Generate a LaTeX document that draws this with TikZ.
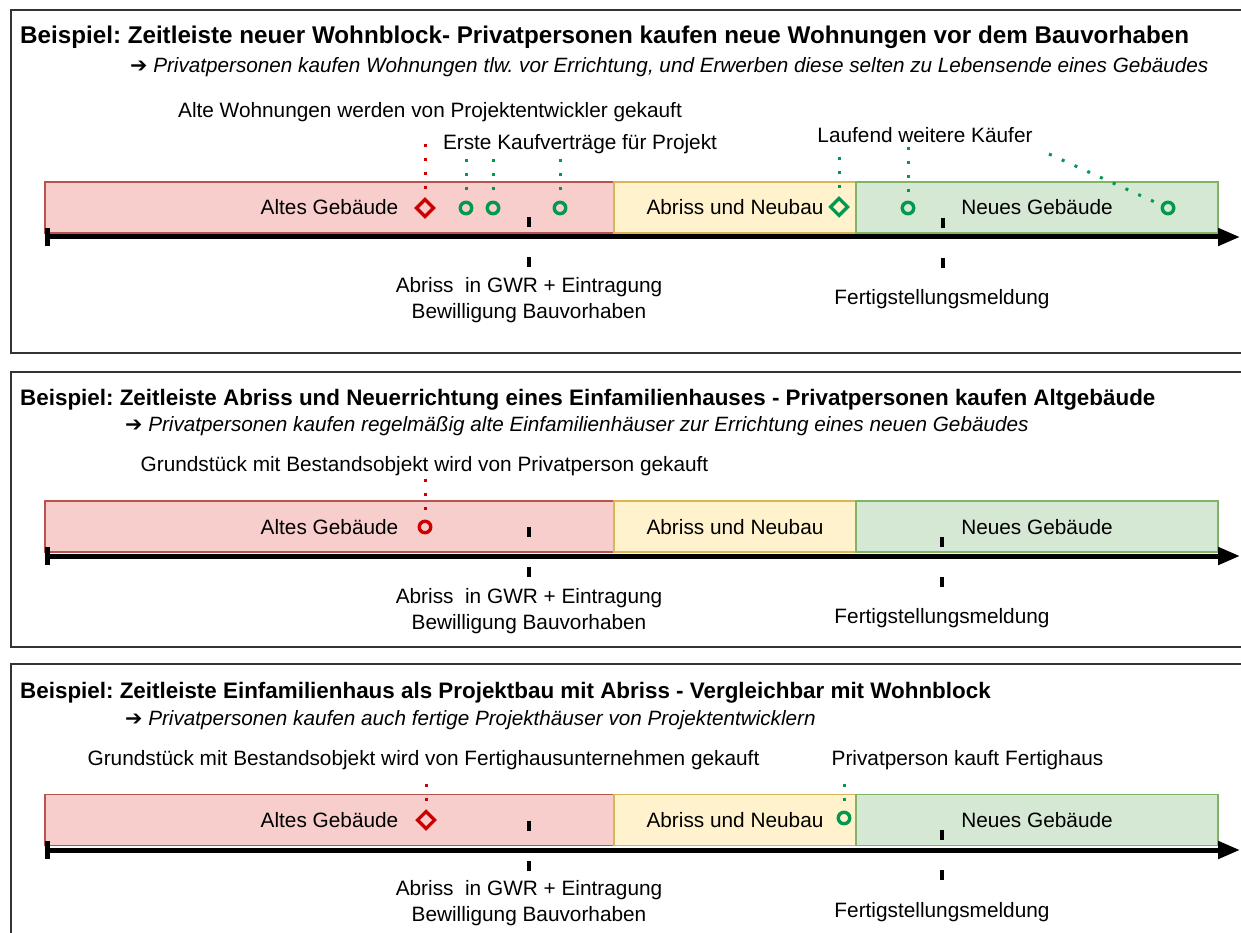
\documentclass[tikz,border=0pt]{standalone}
\usepackage{fontspec}
\setmainfont{Liberation Sans}
\newfontfamily\symfont{DejaVu Sans}
\usetikzlibrary{shapes.geometric,arrows.meta}
\frenchspacing
\definecolor{oldfill}{HTML}{F8CECC}
\definecolor{olddraw}{HTML}{B85450}
\definecolor{buildfill}{HTML}{FFF2CC}
\definecolor{builddraw}{HTML}{D6B656}
\definecolor{newfill}{HTML}{D5E8D4}
\definecolor{newdraw}{HTML}{82B366}
\definecolor{mred}{HTML}{CC0000}
\definecolor{mgreen}{HTML}{00994D}
\definecolor{framecol}{HTML}{333333}
\newcommand\lblfont{\fontsize{20.8}{26}\selectfont}
\tikzset{
  panel/.style={draw=framecol, line width=2pt},
  bar/.style={rectangle, line width=1.5pt, inner sep=0pt, outer sep=0pt, font=\lblfont,
              text height=15pt, text depth=0pt, minimum height=51pt},
  oldbar/.style={bar, fill=oldfill, draw=olddraw, minimum width=569pt},
  buildbar/.style={bar, fill=buildfill, draw=builddraw, minimum width=242pt},
  newbar/.style={bar, fill=newfill, draw=newdraw, minimum width=362pt},
  heading/.style={anchor=base west, inner sep=0pt, font=\fontsize{22.4}{27}\selectfont\bfseries},
  bigheading/.style={heading, font=\fontsize{24.2}{29}\selectfont\bfseries},
  subheading/.style={anchor=base west, inner sep=0pt, font=\fontsize{20.7}{25}\selectfont\itshape},
  lbl/.style={anchor=base, inner sep=0pt, font=\lblfont},
  timeaxis/.style={line width=5pt, {Bar[width=18pt]}-{Triangle[length=22pt,width=17pt]}},
  tickmark/.style={line width=3.5pt, dash pattern=on 10pt off 30pt},
  ring/.style={circle, draw, line width=3.4pt, minimum size=11.5pt, inner sep=0pt, outer sep=0pt},
  rhomb/.style={diamond, draw, line width=3.2pt, minimum width=17pt, minimum height=17pt, inner sep=0pt, outer sep=0pt},
  dots/.style={line width=3pt, dash pattern=on 3pt off 11pt, shorten >=9pt},
}
\newcommand\arr{{\symfont\upshape ➔}\ }
\begin{document}
\begin{tikzpicture}[x=1pt, y=-1pt]
\useasboundingbox (0,0) rectangle (1241,933);

% ---------------- panel 1: apartment block ----------------
\draw[panel] (11,10) rectangle (1260,353);
\node[bigheading] (t1) at (20,43.5) {Beispiel: Zeitleiste neuer Wohnblock- Privatpersonen kaufen neue Wohnungen vor dem Bauvorhaben};
\node[subheading] (s1) at (130,72.4) {\arr Privatpersonen kaufen Wohnungen tlw. vor Errichtung, und Erwerben diese selten zu Lebensende eines Gebäudes};
\node[oldbar] (a1) at (329.5,207.5) {Altes Gebäude};
\node[buildbar] (b1) at (735,207.5) {Abriss und Neubau};
\node[newbar] (c1) at (1037,207.5) {Neues Gebäude};
\draw[tickmark] (529,217) -- (529,268);
\draw[tickmark] (943,218) -- (943,268);
\coordinate (ax1s) at (45,237);
\coordinate (ax1e) at (1240,237);
\draw[timeaxis] (ax1s) -- (ax1e);
\node[lbl] (l1a) at (430,117.5) {Alte Wohnungen werden von Projektentwickler gekauft};
\node[lbl] (l1b) at (580,149.5) {Erste Kaufverträge für Projekt};
\node[lbl] (l1c) at (925,142.5) {Laufend weitere Käufer};
\node[lbl] (l1d) at (529,292.5) {Abriss\ \ in GWR + Eintragung};
\node[lbl] (l1d2) at (529,318.5) {Bewilligung Bauvorhaben};
\node[lbl] (l1e) at (942,304.5) {Fertigstellungsmeldung};
\node[rhomb, draw=mred] (m1a) at (425,208) {};
\node[ring, draw=mgreen] (m1b) at (466,208) {};
\node[ring, draw=mgreen] (m1c) at (493,208) {};
\node[ring, draw=mgreen] (m1d) at (560,208) {};
\node[rhomb, draw=mgreen] (m1e) at (839,207) {};
\node[ring, draw=mgreen] (m1f) at (908,208) {};
\node[ring, draw=mgreen] (m1g) at (1168,208) {};
\coordinate (d1a) at (425,144);
\coordinate (d1b) at (466,159);
\coordinate (d1c) at (493,159);
\coordinate (d1d) at (560,159);
\coordinate (d1e) at (839,157);
\coordinate (d1f) at (908,147);
\coordinate (d1g) at (1049,154);
\draw[dots, mred] (d1a) -- (m1a.north);
\draw[dots, mgreen] (d1b) -- (m1b.north);
\draw[dots, mgreen] (d1c) -- (m1c.north);
\draw[dots, mgreen] (d1d) -- (m1d.north);
\draw[dots, mgreen] (d1e) -- (m1e.north);
\draw[dots, mgreen] (d1f) -- (m1f.north);
\draw[dots, mgreen, shorten >=15pt] (d1g) -- (m1g.center);

% ---------------- panel 2: single-family house, demolished and rebuilt ----------------
\draw[panel] (11,372) rectangle (1260,647);
\node[heading] (t2) at (20,405.5) {Beispiel: Zeitleiste Abriss und Neuerrichtung eines Einfamilienhauses - Privatpersonen kaufen Altgebäude};
\node[subheading] (s2) at (125,431.4) {\arr Privatpersonen kaufen regelmäßig alte Einfamilienhäuser zur Errichtung eines neuen Gebäudes};
\node[oldbar] (a2) at (329.5,526.5) {Altes Gebäude};
\node[buildbar] (b2) at (735,526.5) {Abriss und Neubau};
\node[newbar] (c2) at (1037,526.5) {Neues Gebäude};
\draw[tickmark] (529,527) -- (529,580);
\draw[tickmark] (942,537) -- (942,588);
\coordinate (ax2s) at (45,556);
\coordinate (ax2e) at (1240,556);
\draw[timeaxis] (ax2s) -- (ax2e);
\node[lbl] (l2a) at (424.5,471.5) {Grundstück mit Bestandsobjekt wird von Privatperson gekauft};
\node[lbl] (l2d) at (529,603.5) {Abriss\ \ in GWR + Eintragung};
\node[lbl] (l2d2) at (529,629.5) {Bewilligung Bauvorhaben};
\node[lbl] (l2e) at (942,623.5) {Fertigstellungsmeldung};
\node[ring, draw=mred] (m2a) at (425,527) {};
\coordinate (d2a) at (425,479);
\draw[dots, mred] (d2a) -- (m2a.north);

% ---------------- panel 3: single-family house as developer project ----------------
\draw[panel] (11,664) rectangle (1260,950);
\node[heading] (t3) at (20,698.5) {Beispiel: Zeitleiste Einfamilienhaus als Projektbau mit Abriss - Vergleichbar mit Wohnblock};
\node[subheading] (s3) at (125,725.4) {\arr Privatpersonen kaufen auch fertige Projekthäuser von Projektentwicklern};
\node[oldbar] (a3) at (329.5,820) {Altes Gebäude};
\node[buildbar] (b3) at (735,820) {Abriss und Neubau};
\node[newbar] (c3) at (1037,820) {Neues Gebäude};
\draw[tickmark] (529,821) -- (529,873);
\draw[tickmark] (942,830) -- (942,882);
\coordinate (ax3s) at (45,850);
\coordinate (ax3e) at (1240,850);
\draw[timeaxis] (ax3s) -- (ax3e);
\node[lbl] (l3a) at (423.5,765.5) {Grundstück mit Bestandsobjekt wird von Fertighausunternehmen gekauft};
\node[lbl] (l3b) at (967.5,765.5) {Privatperson kauft Fertighaus};
\node[lbl] (l3d) at (529,895.5) {Abriss\ \ in GWR + Eintragung};
\node[lbl] (l3d2) at (529,921.5) {Bewilligung Bauvorhaben};
\node[lbl] (l3e) at (942,917.5) {Fertigstellungsmeldung};
\node[rhomb, draw=mred] (m3a) at (426,820) {};
\node[ring, draw=mgreen] (m3b) at (844,818) {};
\coordinate (d3a) at (426,784);
\coordinate (d3b) at (844,784);
\draw[dots, mred] (d3a) -- (m3a.north);
\draw[dots, mgreen] (d3b) -- (m3b.north);
\end{tikzpicture}
\end{document}
